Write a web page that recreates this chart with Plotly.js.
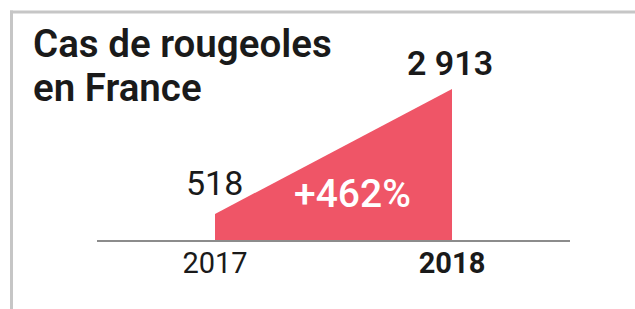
<!DOCTYPE html>
<html>
<head>
<meta charset="utf-8">
<script src="https://cdn.plot.ly/plotly-3.0.1.min.js"></script>
<style>
html,body{margin:0;padding:0;background:#fff;}
#chart{width:635px;height:309px;}
</style>
</head>
<body>
<div id="chart"></div>
<script>
// Data
var years = [2017, 2018];
var cases = [518, 2913];
var tickLabels = ['2017', '<b>2018</b>'];
var titleLines = ['Cas de rougeoles', 'en France'];

function fmt(v){ return String(v).replace(/\B(?=(\d{3})+(?!\d))/g, ' '); }
var pct = Math.round((cases[1] - cases[0]) / cases[0] * 100);

var red = '#ef5567';
var FONT = 'Roboto, "Noto Sans", sans-serif';
var ink = '#1a1a1a';

var trace = {
  x: years, y: cases, type: 'scatter', mode: 'lines',
  fill: 'tozeroy', fillcolor: red,
  line: {width: 0, color: red}, hoverinfo: 'skip', showlegend: false
};

var titleAnn = titleLines.map(function(t, i){
  return {x: 31/635, y: 1 - (44 + i*44)/309, xref: 'paper', yref: 'paper',
    text: t, showarrow: false, xanchor: 'left', yanchor: 'middle',
    font: {family: FONT, size: 38.5, color: ink, weight: 600}};
});

var layout = {
  width: 635, height: 309,
  margin: {l: 0, r: 0, t: 0, b: 0},
  paper_bgcolor: '#fff', plot_bgcolor: 'rgba(0,0,0,0)',
  showlegend: false,
  xaxis: {
    range: [2016.0928, 2018.7721], fixedrange: true,
    tickvals: years, ticktext: tickLabels,
    showgrid: false, zeroline: false, showline: false, ticks: '',
    anchor: 'free', position: 66/309,
    tickfont: {family: FONT, size: 29, color: ink}
  },
  yaxis: {
    range: [-1303.2, 4618.6], fixedrange: true,
    visible: false, showgrid: false, zeroline: false
  },
  shapes: [
    {type: 'line', xref: 'paper', yref: 'y', x0: 97/635, x1: 570/635, y0: 0, y1: 0,
     line: {color: '#8c8c8c', width: 2}},
    {type: 'line', xref: 'paper', yref: 'paper', x0: 10/635, x1: 1, y0: 1 - 12/309, y1: 1 - 12/309,
     line: {color: '#c6c6c6', width: 3}},
    {type: 'line', xref: 'paper', yref: 'paper', x0: 11.5/635, x1: 11.5/635, y0: 0, y1: 1 - 10.5/309,
     line: {color: '#c6c6c6', width: 3}}
  ],
  annotations: titleAnn.concat([
    {x: years[0], y: cases[0], xref: 'x', yref: 'y', text: fmt(cases[0]), showarrow: false,
     xanchor: 'center', yanchor: 'middle', yshift: 31, xshift: -1,
     font: {family: FONT, size: 34, color: ink}},
    {x: years[1], y: cases[1], xref: 'x', yref: 'y', text: fmt(cases[1]), showarrow: false,
     xanchor: 'center', yanchor: 'middle', yshift: 26, xshift: -2,
     font: {family: FONT, size: 34, color: ink, weight: 600}},
    {x: 352/635, y: 1 - 194/309, xref: 'paper', yref: 'paper', text: '+' + pct + '%', showarrow: false,
     xanchor: 'center', yanchor: 'middle',
     font: {family: FONT, size: 39, color: '#ffffff', weight: 500}}
  ])
};

Plotly.newPlot('chart', [trace], layout, {displayModeBar: false, staticPlot: true});
</script>
</body>
</html>
